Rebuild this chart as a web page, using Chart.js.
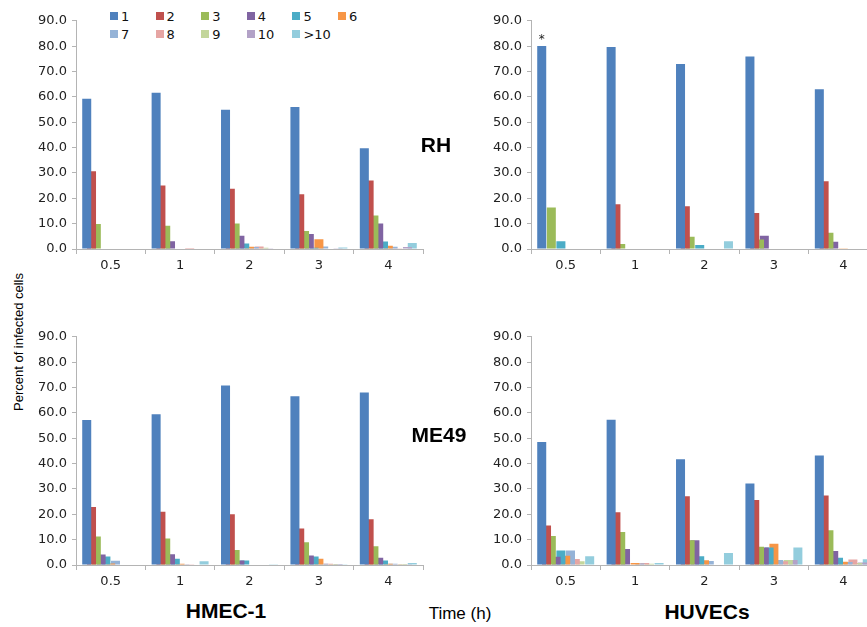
<!DOCTYPE html>
<html>
<head>
<meta charset="utf-8">
<script src="https://cdn.jsdelivr.net/npm/chart.js@4/dist/chart.umd.min.js"></script>
<style>
  html, body { margin: 0; padding: 0; background: #fff; }
  body { width: 867px; height: 627px; position: relative; overflow: hidden; font-family: "DejaVu Sans", sans-serif; }
  canvas { position: absolute; }
  .lbl { position: absolute; font-family: "Liberation Sans", Arial, sans-serif; font-weight: bold; font-size: 21px; color: #000; white-space: nowrap; transform: translate(-50%, -50%); }
  #legend { position: absolute; left: 0; top: 0; }
  .item { position: absolute; font-size: 13px; line-height: 13px; color: #111; white-space: nowrap; }
  .item i { display: inline-block; width: 8px; height: 8px; margin-right: 3px; vertical-align: 1px; }
</style>
</head>
<body>
<div id="legend"></div>
<canvas id="c1" width="398" height="271"></canvas>
<canvas id="c2" width="398" height="271"></canvas>
<canvas id="c3" width="398" height="271"></canvas>
<canvas id="c4" width="398" height="271"></canvas>

<div class="lbl" style="left:436px; top:145px;">RH</div>
<div class="lbl" style="left:439px; top:435px;">ME49</div>
<div class="lbl" style="left:226px; top:611px;">HMEC-1</div>
<div class="lbl" style="left:707px; top:612px;">HUVECs</div>
<div class="lbl" style="left:460px; top:614px; font-weight:normal; font-size:17px;">Time (h)</div>
<div class="lbl" style="left:18px; top:342px; font-weight:normal; font-size:13px; transform: translate(-50%, -50%) rotate(-90deg);">Percent of infected cells</div>

<script>
// 時間 (h)
const times = ["0.5", "1", "2", "3", "4"];
// 感染細胞あたりの寄生虫数
const seriesLabels = ["1", "2", "3", "4", "5", "6", "7", "8", "9", "10", ">10"];
const seriesColors = ["#4F81BD", "#C0504D", "#9BBB59", "#8064A2", "#4BACC6", "#F79646",
                      "#95B3D7", "#E6A5A3", "#C3D69B", "#B3A2C7", "#93CDDD"];
const yTicks = [0, 10, 20, 30, 40, 50, 60, 70, 80, 90];

// RH / HMEC-1
const rhHmec = [
  [59.3, 61.6, 54.9, 56.0, 39.7],
  [30.7, 25.0, 23.8, 21.6, 27.0],
  [9.9, 9.2, 10.1, 7.1, 13.2],
  [0, 3.1, 5.2, 5.9, 10.1],
  [0, 0, 2.2, 0.5, 3.0],
  [0, 0, 0.9, 3.8, 1.3],
  [0, 0, 0.8, 1.0, 0.9],
  [0, 0.4, 1.0, 0.2, 0.3],
  [0, 0, 0.5, 0.2, 0.2],
  [0, 0, 0.3, 0.3, 0.8],
  [0, 0, 0, 0.6, 2.4]
];
// RH / HUVECs
const rhHuvec = [
  [80.1, 79.7, 73.0, 75.9, 63.0],
  [0, 17.6, 16.9, 14.2, 26.7],
  [16.4, 2.0, 4.8, 3.7, 6.4],
  [0, 0, 0, 5.2, 2.9],
  [3.1, 0, 1.6, 0, 0],
  [0, 0, 0, 0, 0.3],
  [0, 0, 0, 0, 0.2],
  [0, 0, 0, 0, 0.2],
  [0, 0, 0, 0, 0],
  [0, 0, 0, 0, 0],
  [0, 0, 3.1, 0, 0]
];
// ME49 / HMEC-1
const me49Hmec = [
  [57.2, 59.5, 70.8, 66.6, 68.0],
  [22.9, 21.0, 20.0, 14.4, 18.0],
  [11.2, 10.5, 5.9, 9.0, 7.4],
  [4.1, 4.2, 1.8, 3.7, 2.9],
  [3.4, 2.5, 1.8, 3.4, 1.8],
  [0.6, 0.5, 0, 2.5, 0.5],
  [1.7, 0.3, 0, 0.5, 0.5],
  [0, 0.3, 0, 0.5, 0.3],
  [0, 0, 0, 0.4, 0.4],
  [0, 0, 0.2, 0.4, 0.3],
  [0, 1.5, 0.3, 0.3, 0.8]
];
// ME49 / HUVECs
const me49Huvec = [
  [48.5, 57.3, 41.7, 32.1, 43.2],
  [15.6, 20.8, 27.1, 25.6, 27.4],
  [11.4, 13.0, 9.8, 7.2, 13.7],
  [3.3, 6.3, 9.8, 6.9, 5.5],
  [5.7, 0, 3.5, 6.9, 2.9],
  [3.6, 0.8, 1.9, 8.4, 1.3],
  [5.7, 0.6, 1.6, 2.0, 1.2],
  [2.4, 0.8, 0, 1.5, 2.2],
  [1.5, 0.5, 0, 2.0, 0.8],
  [0, 0, 0, 2.0, 1.0],
  [3.5, 0.8, 4.7, 6.9, 2.3]
];

// 凡例 (HTML)
const legend = document.getElementById("legend");
seriesLabels.forEach((name, i) => {
  const row = i < 6 ? 0 : 1;
  const col = i < 6 ? i : i - 6;
  const el = document.createElement("div");
  el.className = "item";
  el.style.left = (110 + col * 45.6) + "px";
  el.style.top = (row === 0 ? 10 : 28) + "px";
  el.innerHTML = `<i style="background:${seriesColors[i]}"></i>${name}`;
  legend.appendChild(el);
});

// * マーク
const starPlugin = {
  id: "star",
  afterDatasetsDraw(chart, args, opts) {
    if (!opts.show) return;
    const bar = chart.getDatasetMeta(0).data[0];
    const ctx = chart.ctx;
    ctx.save();
    ctx.fillStyle = "#222";
    ctx.font = "12px 'DejaVu Sans'";
    ctx.textAlign = "center";
    ctx.fillText("*", bar.x, bar.y - 3);
    ctx.restore();
  }
};

const axisColor = "#b4b4b4";
const tickFont = { family: "DejaVu Sans", size: 13 };

function makePanel(id, values, plotLeft, plotTop, star) {
  const el = document.getElementById(id);
  el.style.left = (plotLeft - 45) + "px";
  el.style.top = (plotTop - 12) + "px";

  new Chart(el.getContext("2d"), {
    type: "bar",
    data: {
      labels: times,
      datasets: values.map((vals, i) => ({
        label: seriesLabels[i],
        data: vals,
        backgroundColor: seriesColors[i],
        borderWidth: 0,
        categoryPercentage: 0.76,
        barPercentage: 1.88
      }))
    },
    options: {
      responsive: false,
      animation: false,
      layout: { padding: { top: 12, right: 6, bottom: 0, left: 0 } },
      plugins: {
        legend: { display: false },
        tooltip: { enabled: false },
        star: { show: star }
      },
      scales: {
        x: {
          afterFit: s => { s.height = 30; },
          grid: { drawOnChartArea: false, drawTicks: true, tickLength: 5, color: axisColor, offset: true },
          border: { color: axisColor },
          ticks: { color: "#222", font: tickFont, padding: 4 }
        },
        y: {
          min: 0,
          max: 90,
          afterFit: s => { s.width = 45; },
          afterBuildTicks: s => { s.ticks = yTicks.map(v => ({ value: v })); },
          grid: { drawOnChartArea: false, drawTicks: true, tickLength: 4, color: axisColor },
          border: { color: axisColor },
          ticks: { color: "#222", font: tickFont, padding: 5, callback: v => Number(v).toFixed(1) }
        }
      }
    },
    plugins: [starPlugin]
  });
}

makePanel("c1", rhHmec, 76, 20, false);
makePanel("c2", rhHuvec, 531, 20, true);
makePanel("c3", me49Hmec, 76, 336, false);
makePanel("c4", me49Huvec, 531, 336, false);
</script>
</body>
</html>
